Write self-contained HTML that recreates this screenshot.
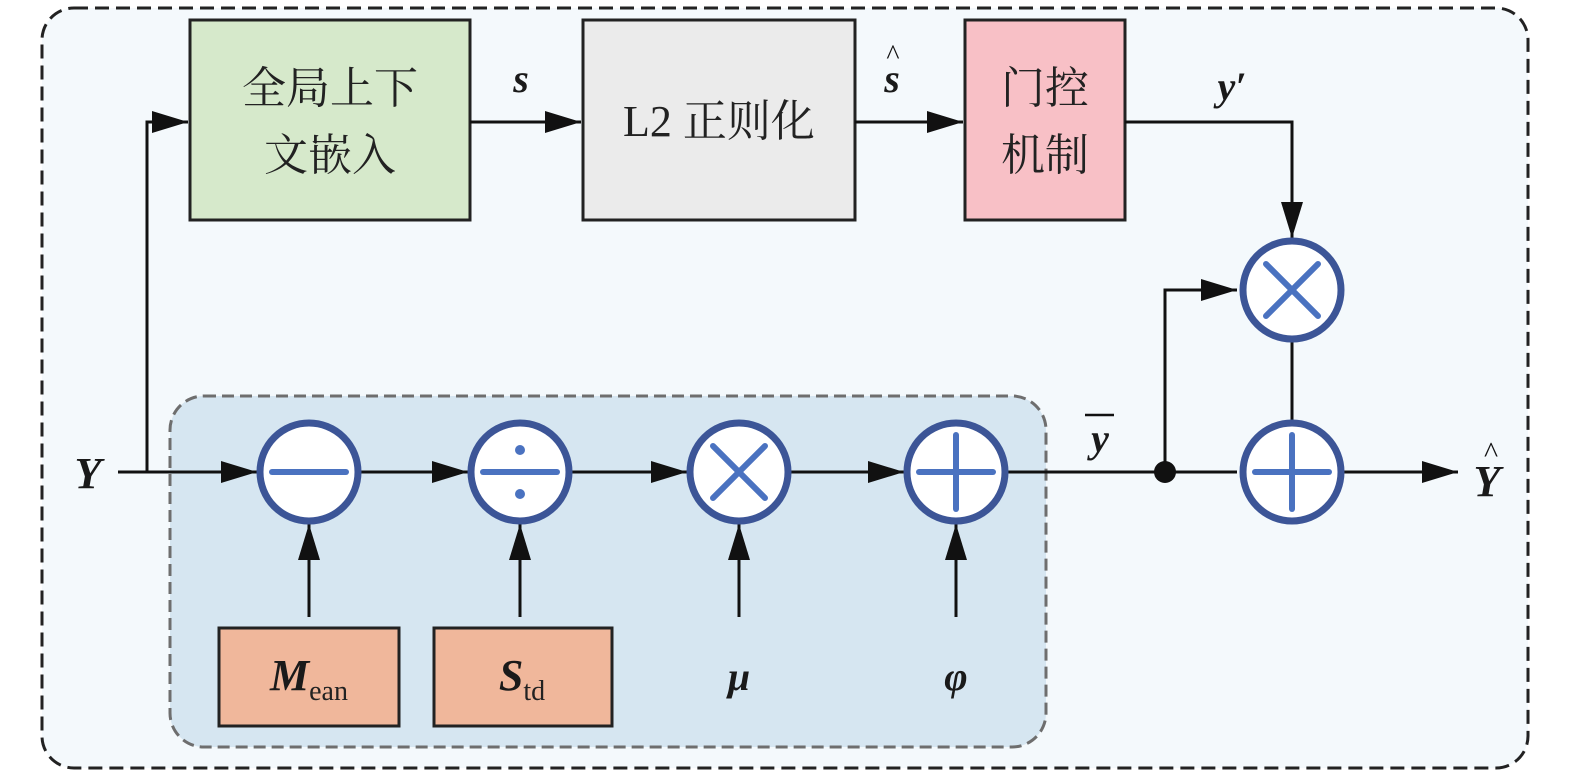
<!DOCTYPE html>
<html><head><meta charset="utf-8"><style>
html,body{margin:0;padding:0;background:#fff;}
svg{display:block}
text{font-family:"Liberation Serif","Noto Serif CJK SC",serif;}
.cjk{font-family:"Liberation Serif","Noto Serif CJK SC","Noto Sans CJK SC",serif;font-size:44px;fill:#222}
.m{font-style:italic;font-weight:bold;fill:#1a1a1a}
</style></head><body>
<svg width="1575" height="775" viewBox="0 0 1575 775" xmlns="http://www.w3.org/2000/svg">
<defs>
<marker id="a" markerWidth="12" markerHeight="10" refX="11" refY="5" orient="auto" markerUnits="userSpaceOnUse" viewBox="0 0 12 10">
<path d="M0,0 L12,5 L0,10 z" fill="#111"/></marker>
<marker id="b" markerWidth="36" markerHeight="22" refX="36" refY="11" orient="auto" markerUnits="userSpaceOnUse" viewBox="0 0 36 22">
<path d="M0,0 L36,11 L0,22 z" fill="#111"/></marker>
</defs>
<rect x="42" y="8" width="1486" height="760" rx="32" fill="#f4f9fc" stroke="#222" stroke-width="3" stroke-dasharray="14,7"/>
<rect x="170" y="396" width="876" height="351" rx="34" fill="#d6e6f1" stroke="#6e6e6e" stroke-width="3" stroke-dasharray="12,6"/>

<rect x="190" y="20" width="280" height="200" fill="#d6e9cb" stroke="#222" stroke-width="3"/>
<text class="cjk" x="330" y="103" text-anchor="middle">全局上下</text>
<text class="cjk" x="330" y="170" text-anchor="middle">文嵌入</text>
<rect x="583" y="20" width="272" height="200" fill="#ebebeb" stroke="#222" stroke-width="3"/>
<text class="cjk" x="719" y="136" text-anchor="middle">L2 正则化</text>
<rect x="965" y="20" width="160" height="200" fill="#f8c0c6" stroke="#222" stroke-width="3"/>
<text class="cjk" x="1045" y="103" text-anchor="middle">门控</text>
<text class="cjk" x="1045" y="170" text-anchor="middle">机制</text>

<g stroke="#111" stroke-width="3" fill="none">
<line x1="118" y1="472" x2="257" y2="472" marker-end="url(#b)"/>
<polyline points="147,472 147,122 188,122" marker-end="url(#b)"/>
<line x1="470" y1="122" x2="581" y2="122" marker-end="url(#b)"/>
<line x1="855" y1="122" x2="963" y2="122" marker-end="url(#b)"/>
<polyline points="1125,122 1292,122 1292,238" marker-end="url(#b)"/>
<line x1="359" y1="472" x2="468" y2="472" marker-end="url(#b)"/>
<line x1="570" y1="472" x2="687" y2="472" marker-end="url(#b)"/>
<line x1="789" y1="472" x2="904" y2="472" marker-end="url(#b)"/>
<line x1="1006" y1="472" x2="1237" y2="472"/>
<polyline points="1165,472 1165,290 1237,290" marker-end="url(#b)"/>
<line x1="1292" y1="340" x2="1292" y2="422"/>
<line x1="1342" y1="472" x2="1458" y2="472" marker-end="url(#b)"/>
<line x1="309" y1="617" x2="309" y2="524" marker-end="url(#b)"/>
<line x1="520" y1="617" x2="520" y2="524" marker-end="url(#b)"/>
<line x1="739" y1="617" x2="739" y2="524" marker-end="url(#b)"/>
<line x1="956" y1="617" x2="956" y2="524" marker-end="url(#b)"/>
</g>
<circle cx="1165" cy="472" r="11" fill="#111"/>

<g stroke="#3c5597" stroke-width="7" fill="#fff">
<circle cx="309" cy="472" r="49"/>
<circle cx="520" cy="472" r="49"/>
<circle cx="739" cy="472" r="49"/>
<circle cx="956" cy="472" r="49"/>
<circle cx="1292" cy="290" r="49"/>
<circle cx="1292" cy="472" r="49"/>
</g>
<g stroke="#4a72c0" stroke-width="6" stroke-linecap="round" fill="none">
<line x1="272" y1="472" x2="346" y2="472"/>
<line x1="483" y1="472" x2="557" y2="472"/>
<line x1="713" y1="446" x2="765" y2="498"/><line x1="765" y1="446" x2="713" y2="498"/>
<line x1="919" y1="472" x2="993" y2="472"/><line x1="956" y1="435" x2="956" y2="509"/>
<line x1="1266" y1="264" x2="1318" y2="316"/><line x1="1318" y1="264" x2="1266" y2="316"/>
<line x1="1255" y1="472" x2="1329" y2="472"/><line x1="1292" y1="435" x2="1292" y2="509"/>
</g>
<g fill="#4a72c0"><circle cx="520" cy="450" r="5"/><circle cx="520" cy="494" r="5"/></g>

<rect x="219" y="628" width="180" height="98" fill="#f0b79b" stroke="#222" stroke-width="3"/>
<rect x="434" y="628" width="178" height="98" fill="#f0b79b" stroke="#222" stroke-width="3"/>
<text x="309" y="690" text-anchor="middle"><tspan class="m" font-size="44">M</tspan><tspan font-size="28" dy="10" fill="#222">ean</tspan></text>
<text x="522" y="690" text-anchor="middle"><tspan class="m" font-size="44">S</tspan><tspan font-size="28" dy="10" fill="#222">td</tspan></text>
<text class="m" x="739" y="690" font-size="40" text-anchor="middle">μ</text>
<text class="m" x="956" y="690" font-size="40" text-anchor="middle">φ</text>

<text class="m" x="88" y="488" font-size="44" text-anchor="middle">Y</text>
<text class="m" x="521" y="92" font-size="40" text-anchor="middle">s</text>
<text class="m" x="892" y="92" font-size="40" text-anchor="middle">s</text>
<text x="893" y="64" font-size="28" text-anchor="middle" fill="#111">^</text>
<text class="m" x="1232" y="100" font-size="40" text-anchor="middle">y′</text>
<text class="m" x="1100" y="452" font-size="40" text-anchor="middle">y</text>
<line x1="1085" y1="415" x2="1114" y2="415" stroke="#111" stroke-width="2.5"/>
<text class="m" x="1487" y="496" font-size="44" text-anchor="middle">Y</text>
<text x="1491" y="462" font-size="30" text-anchor="middle" fill="#111">^</text>
</svg>
</body></html>
